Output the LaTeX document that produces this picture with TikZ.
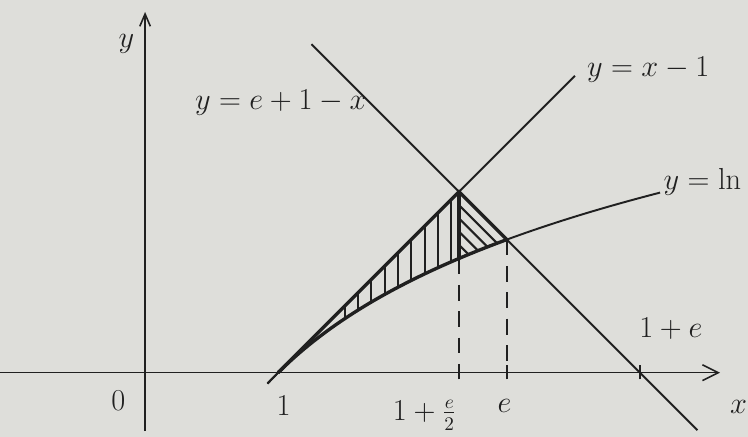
\documentclass[tikz,border=0pt]{standalone}
\usepackage{amsmath}
\usepackage{tikz}
\usetikzlibrary{calc,arrows.meta}
\definecolor{paper}{RGB}{222,222,218}
\definecolor{pencil}{RGB}{32,32,32}
\tikzset{
  axisline/.style={pencil, line width=0.9pt},
  graph/.style={pencil, line width=1.1pt},
  bound/.style={pencil, line width=1.9pt},
  hatch/.style={pencil, line width=1.2pt},
  guide/.style={pencil, line width=1pt, dash pattern=on 9pt off 6pt},
  tickmark/.style={pencil, line width=1pt},
  hand/.style={pencil, font=\fontsize{16}{18}\selectfont},
}

\begin{document}
\begin{tikzpicture}[x=2.66cm,y=2.66cm]
  \fill[paper] (-1.09,-0.48) rectangle (4.53,2.80);
  \useasboundingbox (-1.09,-0.48) rectangle (4.53,2.80);

  % --- Eksenler
  \coordinate (xs) at (-1.1,0);
  \coordinate (xe) at (4.32,0);
  \coordinate (ys) at (0,-0.44);
  \coordinate (ye) at (0,2.71);
  \draw[axisline, -{Straight Barb[length=9pt,width=9pt]}] (xs) -- (xe);
  \draw[axisline, -{Straight Barb[length=7pt,width=6pt]}] (ys) -- (ye);
  \node[hand] (ylab) at (-0.14,2.47) {$y$};
  \node[hand] (xlab) at (4.46,-0.26) {$x$};
  \node[hand] (zero) at (-0.2,-0.21) {$0$};

  % --- Ana noktalar
  \coordinate (A) at (1,0);
  \coordinate (P) at (2.3591,1.3591);
  \coordinate (Q) at (2.7183,1);
  \coordinate (Pb) at (2.3591,{ln(2.3591)});

  % --- Dogrular ve egri
  \coordinate (a1) at (0.92,-0.08);
  \coordinate (a2) at (3.23,2.23);
  \coordinate (b1) at (1.25,2.4683);
  \coordinate (b2) at (4.15,-0.4317);
  \draw[graph] (a1) -- (a2);
  \draw[graph] (b1) -- (b2);
  \draw[graph] plot[domain=0.92:3.87, samples=60, smooth] (\x,{ln(\x)});
  \coordinate (lnend) at (3.87,{ln(3.87)});

  % --- Taranmis bolge
  \draw[bound] (A) -- (P) -- (Q);
  \draw[bound] plot[domain=1:2.7183, samples=40, smooth] (\x,{ln(\x)});
  \draw[bound] (P) -- (Pb);
  \foreach \x in {1.5,1.6,1.7,1.8,1.9,2.0,2.1,2.2,2.3}{
    \draw[hatch] (\x,{ln(\x)}) -- (\x,{\x-1});
  }
  \begin{scope}
    \clip (P) -- (Q) -- plot[domain=2.7183:2.3591, samples=20] (\x,{ln(\x)}) -- cycle;
    \foreach \k in {1,...,4}{
      \draw[hatch] ($(P)+(0,-0.1*\k)$) -- ++(1,-1);
    }
  \end{scope}

  % --- Kesikli dikmeler ve isaretler
  \coordinate (tP) at (P |- A);
  \coordinate (tQ) at (Q |- A);
  \coordinate (tE) at (3.7183,0);
  \draw[guide] (Pb) -- (tP);
  \draw[guide] (Q) -- (tQ);
  \foreach \t in {tP,tQ,tE}{
    \draw[tickmark] ($(\t)+(0,-0.05)$) -- ($(\t)+(0,0.06)$);
  }

  % --- Etiketler
  \node[hand] (lab1) at (1.04,-0.25) {$1$};
  \node[hand] (labP) at (2.10,-0.32) {$1+\frac{e}{2}$};
  \node[hand] (labQ) at (2.70,-0.25) {$e$};
  \node[hand] (labE) at (3.95,0.33) {$1+e$};
  \node[hand] (labB) at (1.02,2.03) {$y=e+1-x$};
  \node[hand] (labA) at (3.78,2.28) {$y=x-1$};
  \node[hand, anchor=west] (labL) at (3.85,1.43) {$y=\ln$};
\end{tikzpicture}
\end{document}
